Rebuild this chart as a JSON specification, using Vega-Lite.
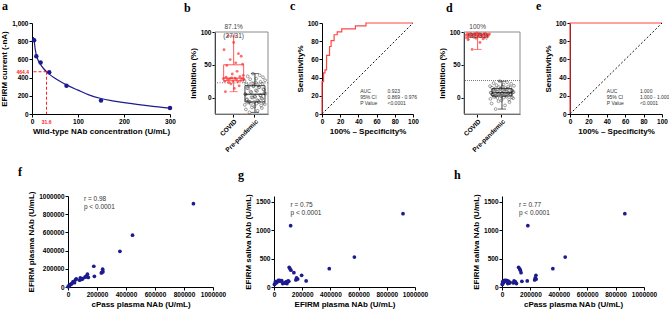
{
"$schema": "https://vega.github.io/schema/vega-lite/v6.json",
"padding": 0,
"config": {
  "font": "Liberation Sans",
  "view": {"stroke": null},
  "axis": {"grid": false, "domainColor": "black", "domainWidth": 1, "tickColor": "black", "tickSize": 3, "tickWidth": 1, "labelFontSize": 6.5, "labelFontWeight": "bold", "labelColor": "black", "labelPadding": 1, "titleFontSize": 8, "titleFontWeight": "bold", "titleColor": "black", "titlePadding": 3, "labelFlush": false, "labelOverlap": false},
  "title": {"font": "Liberation Serif", "fontSize": 12, "fontWeight": "bold", "anchor": "start", "frame": "group", "color": "black", "baseline": "alphabetic"}
},
"datasets": {
  "curveA": [{"conc":3,"current":845},{"conc":4.69,"current":805},{"conc":7,"current":712},{"conc":9.38,"current":648},{"conc":12,"current":607},{"conc":15,"current":573},{"conc":18.75,"current":543},{"conc":25,"current":500},{"conc":31.6,"current":464},{"conc":37.5,"current":438},{"conc":50,"current":393},{"conc":62.5,"current":354},{"conc":75,"current":320},{"conc":100,"current":262},{"conc":125,"current":207},{"conc":150,"current":170},{"conc":175,"current":145},{"conc":200,"current":125},{"conc":225,"current":108},{"conc":250,"current":92},{"conc":275,"current":78},{"conc":300,"current":64}],
  "pointsA": [{"conc":4.69,"current":810},{"conc":9.38,"current":634},{"conc":18.75,"current":567},{"conc":37.5,"current":460},{"conc":75,"current":311},{"conc":150,"current":147},{"conc":300,"current":66}],
  "rocC": [{"fpr":0,"tpr":0},{"fpr":0,"tpr":35.5},{"fpr":1.7,"tpr":35.5},{"fpr":1.7,"tpr":45.2},{"fpr":3.3,"tpr":45.2},{"fpr":3.3,"tpr":48.4},{"fpr":5,"tpr":48.4},{"fpr":5,"tpr":64.5},{"fpr":8.3,"tpr":64.5},{"fpr":8.3,"tpr":74.2},{"fpr":10,"tpr":74.2},{"fpr":10,"tpr":80.6},{"fpr":13.3,"tpr":80.6},{"fpr":13.3,"tpr":87.1},{"fpr":16.7,"tpr":87.1},{"fpr":16.7,"tpr":90.3},{"fpr":21.7,"tpr":90.3},{"fpr":21.7,"tpr":93.5},{"fpr":36.7,"tpr":93.5},{"fpr":36.7,"tpr":96.8},{"fpr":48.3,"tpr":96.8},{"fpr":48.3,"tpr":100},{"fpr":100,"tpr":100}],
  "rocE": [{"fpr":0,"tpr":0},{"fpr":0,"tpr":100},{"fpr":100,"tpr":100}],
  "inhibB": [
    {"group":"COVID","id":1,"v":29},{"group":"COVID","id":2,"v":73},{"group":"COVID","id":3,"v":25},{"group":"COVID","id":4,"v":9},{"group":"COVID","id":5,"v":31},{"group":"COVID","id":6,"v":49},{"group":"COVID","id":7,"v":27},{"group":"COVID","id":8,"v":94},{"group":"COVID","id":9,"v":23},{"group":"COVID","id":10,"v":28.5},{"group":"COVID","id":11,"v":58},{"group":"COVID","id":12,"v":21},{"group":"COVID","id":13,"v":30},{"group":"COVID","id":14,"v":36},{"group":"COVID","id":15,"v":25.5},{"group":"COVID","id":16,"v":84},{"group":"COVID","id":17,"v":14},{"group":"COVID","id":18,"v":29.5},{"group":"COVID","id":19,"v":53},{"group":"COVID","id":20,"v":27.5},{"group":"COVID","id":21,"v":40},{"group":"COVID","id":22,"v":24},{"group":"COVID","id":23,"v":67},{"group":"COVID","id":24,"v":18},{"group":"COVID","id":25,"v":32},{"group":"COVID","id":26,"v":26},{"group":"COVID","id":27,"v":63},{"group":"COVID","id":28,"v":29},{"group":"COVID","id":29,"v":51},{"group":"COVID","id":30,"v":34},{"group":"COVID","id":31,"v":28},
    {"group":"Pre-pandemic","id":1,"v":25},{"group":"Pre-pandemic","id":2,"v":-11},{"group":"Pre-pandemic","id":3,"v":5.5},{"group":"Pre-pandemic","id":4,"v":4.5},{"group":"Pre-pandemic","id":5,"v":-18},{"group":"Pre-pandemic","id":6,"v":20},{"group":"Pre-pandemic","id":7,"v":-3.5},{"group":"Pre-pandemic","id":8,"v":-2.5},{"group":"Pre-pandemic","id":9,"v":14.5},{"group":"Pre-pandemic","id":10,"v":32.5},{"group":"Pre-pandemic","id":11,"v":-7.5},{"group":"Pre-pandemic","id":12,"v":14},{"group":"Pre-pandemic","id":13,"v":-6},{"group":"Pre-pandemic","id":14,"v":18.6},{"group":"Pre-pandemic","id":15,"v":-22.5},{"group":"Pre-pandemic","id":16,"v":-6.5},{"group":"Pre-pandemic","id":17,"v":28},{"group":"Pre-pandemic","id":18,"v":9},{"group":"Pre-pandemic","id":19,"v":-9.5},{"group":"Pre-pandemic","id":20,"v":8},{"group":"Pre-pandemic","id":21,"v":0.5},{"group":"Pre-pandemic","id":22,"v":-15},{"group":"Pre-pandemic","id":23,"v":22},{"group":"Pre-pandemic","id":24,"v":0},{"group":"Pre-pandemic","id":25,"v":36.5},{"group":"Pre-pandemic","id":26,"v":17},{"group":"Pre-pandemic","id":27,"v":18},{"group":"Pre-pandemic","id":28,"v":-6.8},{"group":"Pre-pandemic","id":29,"v":-13.5},{"group":"Pre-pandemic","id":30,"v":2},{"group":"Pre-pandemic","id":31,"v":1},{"group":"Pre-pandemic","id":32,"v":23},{"group":"Pre-pandemic","id":33,"v":11},{"group":"Pre-pandemic","id":34,"v":29},{"group":"Pre-pandemic","id":35,"v":-9},{"group":"Pre-pandemic","id":36,"v":10},{"group":"Pre-pandemic","id":37,"v":-4},{"group":"Pre-pandemic","id":38,"v":-20},{"group":"Pre-pandemic","id":39,"v":19},{"group":"Pre-pandemic","id":40,"v":-5},{"group":"Pre-pandemic","id":41,"v":15.5},{"group":"Pre-pandemic","id":42,"v":-7},{"group":"Pre-pandemic","id":43,"v":16},{"group":"Pre-pandemic","id":44,"v":34},{"group":"Pre-pandemic","id":45,"v":3.5},{"group":"Pre-pandemic","id":46,"v":24},{"group":"Pre-pandemic","id":47,"v":3},{"group":"Pre-pandemic","id":48,"v":-12},{"group":"Pre-pandemic","id":49,"v":-1},{"group":"Pre-pandemic","id":50,"v":-16},{"group":"Pre-pandemic","id":51,"v":-2},{"group":"Pre-pandemic","id":52,"v":21},{"group":"Pre-pandemic","id":53,"v":31},{"group":"Pre-pandemic","id":54,"v":13},{"group":"Pre-pandemic","id":55,"v":-8},{"group":"Pre-pandemic","id":56,"v":12},{"group":"Pre-pandemic","id":57,"v":7},{"group":"Pre-pandemic","id":58,"v":-10},{"group":"Pre-pandemic","id":59,"v":26.5},{"group":"Pre-pandemic","id":60,"v":6}
  ],
  "inhibD": [
    {"group":"COVID","id":1,"v":95},{"group":"COVID","id":2,"v":91},{"group":"COVID","id":3,"v":97.5},{"group":"COVID","id":4,"v":88},{"group":"COVID","id":5,"v":96},{"group":"COVID","id":6,"v":93},{"group":"COVID","id":7,"v":98},{"group":"COVID","id":8,"v":94.5},{"group":"COVID","id":9,"v":73.5},{"group":"COVID","id":10,"v":96.5},{"group":"COVID","id":11,"v":92},{"group":"COVID","id":12,"v":97},{"group":"COVID","id":13,"v":95.5},{"group":"COVID","id":14,"v":90.5},{"group":"COVID","id":15,"v":98.5},{"group":"COVID","id":16,"v":94},{"group":"COVID","id":17,"v":93.5},{"group":"COVID","id":18,"v":97},{"group":"COVID","id":19,"v":84},{"group":"COVID","id":20,"v":96},{"group":"COVID","id":21,"v":92.5},{"group":"COVID","id":22,"v":95},{"group":"COVID","id":23,"v":89.5},{"group":"COVID","id":24,"v":97.5},{"group":"COVID","id":25,"v":91.5},{"group":"COVID","id":26,"v":98},{"group":"COVID","id":27,"v":94},{"group":"COVID","id":28,"v":96.5},{"group":"COVID","id":29,"v":93},{"group":"COVID","id":30,"v":95.5},{"group":"COVID","id":31,"v":97},
    {"group":"Pre-pandemic","id":1,"v":17.5},{"group":"Pre-pandemic","id":2,"v":-2},{"group":"Pre-pandemic","id":3,"v":7.6},{"group":"Pre-pandemic","id":4,"v":7.4},{"group":"Pre-pandemic","id":5,"v":-9},{"group":"Pre-pandemic","id":6,"v":15},{"group":"Pre-pandemic","id":7,"v":4.3},{"group":"Pre-pandemic","id":8,"v":4.6},{"group":"Pre-pandemic","id":9,"v":11.5},{"group":"Pre-pandemic","id":10,"v":22},{"group":"Pre-pandemic","id":11,"v":1},{"group":"Pre-pandemic","id":12,"v":12},{"group":"Pre-pandemic","id":13,"v":3},{"group":"Pre-pandemic","id":14,"v":14},{"group":"Pre-pandemic","id":15,"v":-17.5},{"group":"Pre-pandemic","id":16,"v":2.5},{"group":"Pre-pandemic","id":17,"v":19},{"group":"Pre-pandemic","id":18,"v":8.8},{"group":"Pre-pandemic","id":19,"v":-0.5},{"group":"Pre-pandemic","id":20,"v":9.2},{"group":"Pre-pandemic","id":21,"v":5.6},{"group":"Pre-pandemic","id":22,"v":-5.5},{"group":"Pre-pandemic","id":23,"v":16},{"group":"Pre-pandemic","id":24,"v":6},{"group":"Pre-pandemic","id":25,"v":25},{"group":"Pre-pandemic","id":26,"v":13.2},{"group":"Pre-pandemic","id":27,"v":13.5},{"group":"Pre-pandemic","id":28,"v":2},{"group":"Pre-pandemic","id":29,"v":-4},{"group":"Pre-pandemic","id":30,"v":6.6},{"group":"Pre-pandemic","id":31,"v":6.3},{"group":"Pre-pandemic","id":32,"v":16.5},{"group":"Pre-pandemic","id":33,"v":10},{"group":"Pre-pandemic","id":34,"v":20},{"group":"Pre-pandemic","id":35,"v":0},{"group":"Pre-pandemic","id":36,"v":9.6},{"group":"Pre-pandemic","id":37,"v":3.5},{"group":"Pre-pandemic","id":38,"v":-12},{"group":"Pre-pandemic","id":39,"v":14.5},{"group":"Pre-pandemic","id":40,"v":4},{"group":"Pre-pandemic","id":41,"v":12.4},{"group":"Pre-pandemic","id":42,"v":1.5},{"group":"Pre-pandemic","id":43,"v":23.5},{"group":"Pre-pandemic","id":44,"v":12.8},{"group":"Pre-pandemic","id":45,"v":7.2},{"group":"Pre-pandemic","id":46,"v":17},{"group":"Pre-pandemic","id":47,"v":7},{"group":"Pre-pandemic","id":48,"v":-3},{"group":"Pre-pandemic","id":49,"v":-7},{"group":"Pre-pandemic","id":50,"v":5.3},{"group":"Pre-pandemic","id":51,"v":15.5},{"group":"Pre-pandemic","id":52,"v":5},{"group":"Pre-pandemic","id":53,"v":21},{"group":"Pre-pandemic","id":54,"v":11},{"group":"Pre-pandemic","id":55,"v":0.5},{"group":"Pre-pandemic","id":56,"v":10.5},{"group":"Pre-pandemic","id":57,"v":8},{"group":"Pre-pandemic","id":58,"v":-1},{"group":"Pre-pandemic","id":59,"v":8.4},{"group":"Pre-pandemic","id":60,"v":18}
  ],
  "subj": [
    {"C":865000,"E":915000,"S":1290},{"C":445000,"E":570000,"S":527},{"C":358000,"E":392000,"S":322},{"C":182000,"E":118000,"S":1078},{"C":178000,"E":228000,"S":107},{"C":117000,"E":108000,"S":346},{"C":124000,"E":113000,"S":320},{"C":129000,"E":120000,"S":295},{"C":134000,"E":141000,"S":252},{"C":239000,"E":196000,"S":206},{"C":234000,"E":160000,"S":160},{"C":241000,"E":168000,"S":140},{"C":230000,"E":155000,"S":125},{"C":140000,"E":105000,"S":99},{"C":102000,"E":92000,"S":61},{"C":95000,"E":85000,"S":89},{"C":85000,"E":100000,"S":108},{"C":80000,"E":75000,"S":72},{"C":57000,"E":88000,"S":82},{"C":53000,"E":80000,"S":70},{"C":41000,"E":62000,"S":60},{"C":34000,"E":55000,"S":112},{"C":28000,"E":40000,"S":118},{"C":23000,"E":33000,"S":100},{"C":18000,"E":30000,"S":115},{"C":12000,"E":20000,"S":85},{"C":8000,"E":15000,"S":72},{"C":5000,"E":10000,"S":95},{"C":3000,"E":6000,"S":55},{"C":2000,"E":3000,"S":45},{"C":45000,"E":48000,"S":105}
  ]
},
"spacing": 13,
"vconcat": [
 {"spacing": 0, "bounds": "flush", "hconcat": [
  {"width": 31, "height": 91, "data": {"values": [{}]}, "mark": {"type": "rect", "opacity": 0}},
  {
    "width": 138, "height": 91,
    "title": {"text": "a", "dx": -30, "offset": 7},
    "layer": [
      {"data": {"name": "curveA"}, "mark": {"type": "line", "color": "#1c1c8f", "strokeWidth": 1.2, "interpolate": "monotone"},
       "encoding": {"x": {"field": "conc", "type": "quantitative", "scale": {"domain": [0, 300]}, "axis": {"values": [0, 100, 200, 300], "tickCount": 20, "title": "Wild-type NAb concentration (U/mL)"}},
                    "y": {"field": "current", "type": "quantitative", "scale": {"domain": [0, 1000]}, "axis": {"values": [0, 200, 400, 600, 800, 1000], "tickCount": 20, "title": "EFIRM current (-nA)"}}}},
      {"data": {"name": "pointsA"}, "mark": {"type": "circle", "size": 20, "color": "#1c1c8f", "opacity": 1},
       "encoding": {"x": {"field": "conc", "type": "quantitative"}, "y": {"field": "current", "type": "quantitative"}}},
      {"data": {"values": [{"conc": 31.6, "current": 464.4}]},
       "layer": [
         {"mark": {"type": "rule", "color": "#ff1a1a", "strokeDash": [3, 2], "strokeWidth": 1}, "encoding": {"x": {"field": "conc", "type": "quantitative"}, "x2": {"datum": 0}, "y": {"field": "current", "type": "quantitative"}}},
         {"mark": {"type": "rule", "color": "#ff1a1a", "strokeDash": [3, 2], "strokeWidth": 1}, "encoding": {"x": {"field": "conc", "type": "quantitative"}, "y": {"field": "current", "type": "quantitative"}, "y2": {"datum": 0}}},
         {"mark": {"type": "text", "color": "#ff1a1a", "fontSize": 5, "fontWeight": "bold", "align": "right", "baseline": "middle", "dx": -3}, "encoding": {"x": {"datum": 0, "type": "quantitative"}, "y": {"field": "current", "type": "quantitative"}, "text": {"field": "current", "type": "quantitative", "format": ".1f"}}},
         {"mark": {"type": "text", "color": "#ff1a1a", "fontSize": 5, "fontWeight": "bold", "align": "center", "baseline": "top", "dy": 5.5}, "encoding": {"x": {"field": "conc", "type": "quantitative"}, "y": {"datum": 0, "type": "quantitative"}, "text": {"field": "conc", "type": "quantitative", "format": ".1f"}}}
       ]}
    ]
  },
  {"width": 45, "height": 91, "data": {"values": [{}]}, "mark": {"type": "rect", "opacity": 0}},
  {
    "width": 53, "height": 91,
    "title": {"text": "b", "dx": -31, "offset": 8},
    "data": {"name": "inhibB"},
    "resolve": {"scale": {"xOffset": "independent"}},
    "layer": [
      {"transform": [{"aggregate": [{"op": "min", "field": "v", "as": "lo"}, {"op": "q1", "field": "v", "as": "q1"}, {"op": "median", "field": "v", "as": "med"}, {"op": "q3", "field": "v", "as": "q3"}, {"op": "max", "field": "v", "as": "hi"}], "groupby": ["group"]}],
       "mark": {"type": "bar", "width": 20, "fill": "white", "fillOpacity": 0, "strokeWidth": 0.8},
       "encoding": {"x": {"field": "group", "type": "nominal", "scale": {"domain": ["COVID", "Pre-pandemic"], "paddingInner": 0, "paddingOuter": 0.244, "align": 0.77}, "axis": {"title": null, "labelAngle": -45, "domainColor": "#555", "labelPadding": 1}},
                    "y": {"field": "q1", "type": "quantitative", "scale": {"domain": [-25, 100], "range": [91, 9], "nice": false, "zero": false}, "axis": {"values": [0, 50, 100], "tickCount": 20, "title": "Inhibition (%)"}},
                    "y2": {"field": "q3"},
                    "stroke": {"field": "group", "type": "nominal", "scale": {"domain": ["COVID", "Pre-pandemic"], "range": ["#ff3030", "#111111"]}, "legend": null}}},
      {"data": {"values": [{}]}, "mark": {"type": "rect", "filled": false, "stroke": "#8a8a8a", "strokeWidth": 1},
       "encoding": {"y": {"datum": 100, "type": "quantitative"}, "y2": {"datum": -25}}},
      {"data": {"values": [{}]}, "mark": {"type": "rule", "color": "#777", "strokeDash": [1, 1.5], "strokeWidth": 1}, "encoding": {"y": {"datum": 22.5, "type": "quantitative"}}},
      {"transform": [{"filter": "datum.group === 'COVID'"}], "mark": {"type": "circle", "size": 8, "color": "#ff3b3b", "opacity": 0.75},
       "encoding": {"x": {"field": "group", "type": "nominal"}, "xOffset": {"field": "id", "type": "nominal"}, "y": {"field": "v", "type": "quantitative"}}},
      {"transform": [{"filter": "datum.group !== 'COVID'"}], "mark": {"type": "point", "size": 8, "color": "#222", "strokeWidth": 0.6, "filled": false},
       "encoding": {"x": {"field": "group", "type": "nominal"}, "xOffset": {"field": "id", "type": "nominal"}, "y": {"field": "v", "type": "quantitative"}}},
      {"transform": [{"aggregate": [{"op": "min", "field": "v", "as": "lo"}, {"op": "q1", "field": "v", "as": "q1"}, {"op": "median", "field": "v", "as": "med"}, {"op": "q3", "field": "v", "as": "q3"}, {"op": "max", "field": "v", "as": "hi"}], "groupby": ["group"]}],
       "layer": [
         {"mark": {"type": "rule", "strokeWidth": 0.8}, "encoding": {"x": {"field": "group", "type": "nominal"}, "y": {"field": "lo", "type": "quantitative"}, "y2": {"field": "q1"}, "stroke": {"field": "group", "type": "nominal", "legend": null}}},
         {"mark": {"type": "rule", "strokeWidth": 0.8}, "encoding": {"x": {"field": "group", "type": "nominal"}, "y": {"field": "q3", "type": "quantitative"}, "y2": {"field": "hi"}, "stroke": {"field": "group", "type": "nominal", "legend": null}}},
         {"mark": {"type": "tick", "size": 8, "thickness": 0.9}, "encoding": {"x": {"field": "group", "type": "nominal"}, "y": {"field": "lo", "type": "quantitative"}, "fill": {"field": "group", "type": "nominal", "scale": {"domain": ["COVID", "Pre-pandemic"], "range": ["#ff3030", "#111111"]}, "legend": null}}},
         {"mark": {"type": "tick", "size": 8, "thickness": 0.9}, "encoding": {"x": {"field": "group", "type": "nominal"}, "y": {"field": "hi", "type": "quantitative"}, "fill": {"field": "group", "type": "nominal", "legend": null}}},
         {"mark": {"type": "tick", "size": 20, "thickness": 1.5}, "encoding": {"x": {"field": "group", "type": "nominal"}, "y": {"field": "med", "type": "quantitative"}, "fill": {"field": "group", "type": "nominal", "legend": null}}}
       ]},
      {"data": {"values": [{"group": "COVID", "label": "87.1%\n(27/31)"}]}, "mark": {"type": "text", "lineBreak": "\n", "baseline": "bottom", "dy": -2, "fontSize": 6.5, "lineHeight": 8.5, "color": "#444"},
       "encoding": {"x": {"field": "group", "type": "nominal"}, "y": {"datum": 100, "type": "quantitative"}, "text": {"field": "label"}}}
    ]
  },
  {"width": 54, "height": 91, "data": {"values": [{}]}, "mark": {"type": "rect", "opacity": 0}},
  {
    "width": 91, "height": 91,
    "title": {"text": "c", "dx": -32, "offset": 7},
    "layer": [
      {"data": {"name": "rocC"}, "mark": {"type": "line", "color": "#ff4545", "strokeWidth": 1.2},
       "encoding": {"x": {"field": "fpr", "type": "quantitative", "scale": {"domain": [0, 100]}, "axis": {"values": [0, 20, 40, 60, 80, 100], "tickCount": 20, "title": "100% – Specificity%"}},
                    "y": {"field": "tpr", "type": "quantitative", "scale": {"domain": [0, 100]}, "axis": {"values": [0, 20, 40, 60, 80, 100], "tickCount": 20, "title": "Sensitivity%"}}}},
      {"data": {"values": [{}]}, "mark": {"type": "rule", "color": "#111", "strokeDash": [2, 2], "strokeWidth": 1}, "encoding": {"x": {"datum": 0, "type": "quantitative"}, "y": {"datum": 0, "type": "quantitative"}, "x2": {"datum": 100}, "y2": {"datum": 100}}},
      {"data": {"values": [{}]}, "mark": {"type": "text", "text": ["AUC", "95% CI", "P Value"], "align": "left", "baseline": "top", "fontSize": 5, "lineHeight": 6, "color": "#333"}, "encoding": {"x": {"datum": 42, "type": "quantitative"}, "y": {"datum": 27, "type": "quantitative"}}},
      {"data": {"values": [{}]}, "mark": {"type": "text", "text": ["0.923", "0.869 - 0.976", "<0.0001"], "align": "left", "baseline": "top", "fontSize": 5, "lineHeight": 6, "color": "#333"}, "encoding": {"x": {"datum": 72, "type": "quantitative"}, "y": {"datum": 27, "type": "quantitative"}}}
    ]
  },
  {"width": 51, "height": 91, "data": {"values": [{}]}, "mark": {"type": "rect", "opacity": 0}},
  {
    "width": 56, "height": 91,
    "title": {"text": "d", "dx": -18, "offset": 8},
    "data": {"name": "inhibD"},
    "resolve": {"scale": {"xOffset": "independent"}},
    "layer": [
      {"transform": [{"aggregate": [{"op": "min", "field": "v", "as": "lo"}, {"op": "q1", "field": "v", "as": "q1"}, {"op": "median", "field": "v", "as": "med"}, {"op": "q3", "field": "v", "as": "q3"}, {"op": "max", "field": "v", "as": "hi"}], "groupby": ["group"]}],
       "mark": {"type": "bar", "width": 20, "fill": "white", "fillOpacity": 0, "strokeWidth": 0.8},
       "encoding": {"x": {"field": "group", "type": "nominal", "scale": {"domain": ["COVID", "Pre-pandemic"], "paddingInner": 0, "paddingOuter": 0.15, "align": 0.2}, "axis": {"title": null, "labelAngle": -45, "domainColor": "#555", "labelPadding": 1}},
                    "y": {"field": "q1", "type": "quantitative", "scale": {"domain": [-25, 100], "range": [91, 9], "nice": false, "zero": false}, "axis": {"values": [0, 50, 100], "tickCount": 20, "title": "Inhibition (%)"}},
                    "y2": {"field": "q3"},
                    "stroke": {"field": "group", "type": "nominal", "scale": {"domain": ["COVID", "Pre-pandemic"], "range": ["#ff3030", "#111111"]}, "legend": null}}},
      {"data": {"values": [{}]}, "mark": {"type": "rect", "filled": false, "stroke": "#8a8a8a", "strokeWidth": 1},
       "encoding": {"y": {"datum": 100, "type": "quantitative"}, "y2": {"datum": -25}}},
      {"data": {"values": [{}]}, "mark": {"type": "rule", "color": "#555", "strokeDash": [1, 1], "strokeWidth": 0.8}, "encoding": {"y": {"datum": 26, "type": "quantitative"}}},
      {"transform": [{"filter": "datum.group === 'COVID'"}], "mark": {"type": "circle", "size": 8, "color": "#ff3b3b", "opacity": 0.75},
       "encoding": {"x": {"field": "group", "type": "nominal"}, "xOffset": {"field": "id", "type": "nominal"}, "y": {"field": "v", "type": "quantitative"}}},
      {"transform": [{"filter": "datum.group !== 'COVID'"}], "mark": {"type": "point", "size": 8, "color": "#222", "strokeWidth": 0.6, "filled": false},
       "encoding": {"x": {"field": "group", "type": "nominal"}, "xOffset": {"field": "id", "type": "nominal"}, "y": {"field": "v", "type": "quantitative"}}},
      {"transform": [{"aggregate": [{"op": "min", "field": "v", "as": "lo"}, {"op": "q1", "field": "v", "as": "q1"}, {"op": "median", "field": "v", "as": "med"}, {"op": "q3", "field": "v", "as": "q3"}, {"op": "max", "field": "v", "as": "hi"}], "groupby": ["group"]}],
       "layer": [
         {"mark": {"type": "rule", "strokeWidth": 0.8}, "encoding": {"x": {"field": "group", "type": "nominal"}, "y": {"field": "lo", "type": "quantitative"}, "y2": {"field": "q1"}, "stroke": {"field": "group", "type": "nominal", "legend": null}}},
         {"mark": {"type": "rule", "strokeWidth": 0.8}, "encoding": {"x": {"field": "group", "type": "nominal"}, "y": {"field": "q3", "type": "quantitative"}, "y2": {"field": "hi"}, "stroke": {"field": "group", "type": "nominal", "legend": null}}},
         {"mark": {"type": "tick", "size": 8, "thickness": 0.9}, "encoding": {"x": {"field": "group", "type": "nominal"}, "y": {"field": "lo", "type": "quantitative"}, "fill": {"field": "group", "type": "nominal", "scale": {"domain": ["COVID", "Pre-pandemic"], "range": ["#ff3030", "#111111"]}, "legend": null}}},
         {"mark": {"type": "tick", "size": 8, "thickness": 0.9}, "encoding": {"x": {"field": "group", "type": "nominal"}, "y": {"field": "hi", "type": "quantitative"}, "fill": {"field": "group", "type": "nominal", "legend": null}}},
         {"mark": {"type": "tick", "size": 20, "thickness": 1.5}, "encoding": {"x": {"field": "group", "type": "nominal"}, "y": {"field": "med", "type": "quantitative"}, "fill": {"field": "group", "type": "nominal", "legend": null}}}
       ]},
      {"data": {"values": [{"group": "COVID", "label": "100%\n(31/31)"}]}, "mark": {"type": "text", "lineBreak": "\n", "baseline": "bottom", "dy": -2, "fontSize": 6.5, "lineHeight": 8.5, "color": "#444"},
       "encoding": {"x": {"field": "group", "type": "nominal"}, "y": {"datum": 100, "type": "quantitative"}, "text": {"field": "label"}}}
    ]
  },
  {"width": 50, "height": 91, "data": {"values": [{}]}, "mark": {"type": "rect", "opacity": 0}},
  {
    "width": 92, "height": 91,
    "title": {"text": "e", "dx": -34, "offset": 7},
    "layer": [
      {"data": {"name": "rocE"}, "mark": {"type": "line", "color": "#ff4545", "strokeWidth": 1.2},
       "encoding": {"x": {"field": "fpr", "type": "quantitative", "scale": {"domain": [0, 100]}, "axis": {"values": [0, 20, 40, 60, 80, 100], "tickCount": 20, "title": "100% – Specificity%"}},
                    "y": {"field": "tpr", "type": "quantitative", "scale": {"domain": [0, 100]}, "axis": {"values": [0, 20, 40, 60, 80, 100], "tickCount": 20, "title": "Sensitivity%"}}}},
      {"data": {"values": [{}]}, "mark": {"type": "rule", "color": "#111", "strokeDash": [2, 2], "strokeWidth": 1}, "encoding": {"x": {"datum": 0, "type": "quantitative"}, "y": {"datum": 0, "type": "quantitative"}, "x2": {"datum": 100}, "y2": {"datum": 100}}},
      {"data": {"values": [{}]}, "mark": {"type": "text", "text": ["AUC", "95% CI", "P Value"], "align": "left", "baseline": "top", "fontSize": 5, "lineHeight": 6, "color": "#333"}, "encoding": {"x": {"datum": 40, "type": "quantitative"}, "y": {"datum": 27, "type": "quantitative"}}},
      {"data": {"values": [{}]}, "mark": {"type": "text", "text": ["1.000", "1.000 - 1.000", "<0.0001"], "align": "left", "baseline": "top", "fontSize": 5, "lineHeight": 6, "color": "#333"}, "encoding": {"x": {"datum": 76, "type": "quantitative"}, "y": {"datum": 27, "type": "quantitative"}}}
    ]
  }
 ]},
 {"spacing": 0, "bounds": "flush", "hconcat": [
  {"width": 67, "height": 91, "data": {"values": [{}]}, "mark": {"type": "rect", "opacity": 0}},
  {
    "width": 145, "height": 91,
    "title": {"text": "f", "dx": -50, "offset": 12},
    "layer": [
      {"data": {"name": "subj"}, "mark": {"type": "circle", "size": 14, "color": "#1c1c8f", "opacity": 1},
       "encoding": {"x": {"field": "C", "type": "quantitative", "scale": {"domain": [0, 1000000]}, "axis": {"values": [0, 200000, 400000, 600000, 800000, 1000000], "tickCount": 20, "format": "d", "title": "cPass plasma NAb (U/mL)"}},
                    "y": {"field": "E", "type": "quantitative", "scale": {"domain": [0, 1000000]}, "axis": {"values": [0, 200000, 400000, 600000, 800000, 1000000], "tickCount": 20, "format": "d", "title": "EFIRM plasma NAb (U/mL)"}}}},
      {"data": {"values": [{}]}, "mark": {"type": "text", "text": ["r = 0.98", "p < 0.0001"], "align": "left", "baseline": "top", "fontSize": 6.5, "lineHeight": 8, "color": "#333"}, "encoding": {"x": {"datum": 110000, "type": "quantitative"}, "y": {"datum": 1000000, "type": "quantitative"}}}
    ]
  },
  {"width": 61, "height": 91, "data": {"values": [{}]}, "mark": {"type": "rect", "opacity": 0}},
  {
    "width": 141, "height": 91,
    "title": {"text": "g", "dx": -36, "offset": 12},
    "layer": [
      {"data": {"name": "subj"}, "mark": {"type": "circle", "size": 14, "color": "#1c1c8f", "opacity": 1},
       "encoding": {"x": {"field": "E", "type": "quantitative", "scale": {"domain": [0, 1000000]}, "axis": {"values": [0, 200000, 400000, 600000, 800000, 1000000], "tickCount": 20, "format": "d", "title": "EFIRM plasma NAb (U/mL)"}},
                    "y": {"field": "S", "type": "quantitative", "scale": {"domain": [0, 1500]}, "axis": {"values": [0, 500, 1000, 1500], "tickCount": 20, "format": "d", "title": "EFIRM saliva NAb (U/mL)"}}}},
      {"data": {"values": [{}]}, "mark": {"type": "text", "text": ["r = 0.75", "p < 0.0001"], "align": "left", "baseline": "top", "fontSize": 6.5, "lineHeight": 8, "color": "#333"}, "encoding": {"x": {"datum": 117000, "type": "quantitative"}, "y": {"datum": 1500, "type": "quantitative"}}}
    ]
  },
  {"width": 87, "height": 91, "data": {"values": [{}]}, "mark": {"type": "rect", "opacity": 0}},
  {
    "width": 142, "height": 91,
    "title": {"text": "h", "dx": -48, "offset": 12},
    "layer": [
      {"data": {"name": "subj"}, "mark": {"type": "circle", "size": 14, "color": "#1c1c8f", "opacity": 1},
       "encoding": {"x": {"field": "C", "type": "quantitative", "scale": {"domain": [0, 1000000]}, "axis": {"values": [0, 200000, 400000, 600000, 800000, 1000000], "tickCount": 20, "format": "d", "title": "cPass plasma NAb (U/mL)"}},
                    "y": {"field": "S", "type": "quantitative", "scale": {"domain": [0, 1500]}, "axis": {"values": [0, 500, 1000, 1500], "tickCount": 20, "format": "d", "title": "EFIRM saliva NAb (U/mL)"}}}},
      {"data": {"values": [{}]}, "mark": {"type": "text", "text": ["r = 0.77", "p < 0.0001"], "align": "left", "baseline": "top", "fontSize": 6.5, "lineHeight": 8, "color": "#333"}, "encoding": {"x": {"datum": 119000, "type": "quantitative"}, "y": {"datum": 1500, "type": "quantitative"}}}
    ]
  }
 ]}
]
}
